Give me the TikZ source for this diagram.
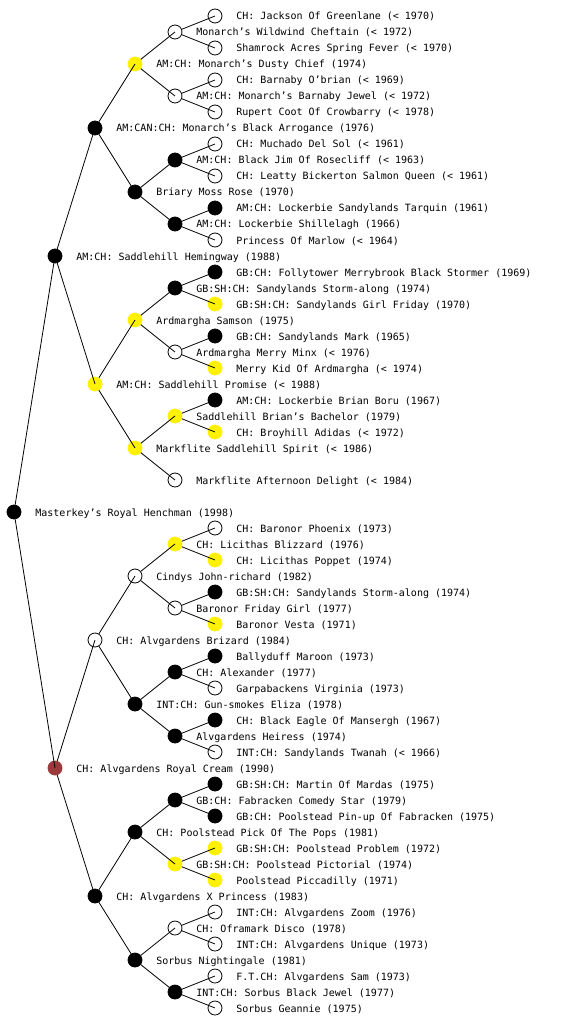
\documentclass[tikz,border=0pt]{standalone}
\usepackage{fontspec}
\newfontfamily\pedfont{DejaVu Sans Mono}
\usepackage{tikz}
\usepackage{xcolor}
\definecolor{cream}{RGB}{155,58,58}

\begin{document}
\begin{tikzpicture}[x=1pt,y=-1pt,line width=0.8pt,
  dog/.style={circle,minimum size=14pt,inner sep=0pt,line width=0.8pt},
  opn/.style={dog,draw=black,fill=white},
  blk/.style={dog,draw=black,fill=black},
  ylw/.style={dog,draw=yellow,fill=yellow},
  red/.style={dog,draw=cream,fill=cream},
  txt/.style={anchor=base west,inner sep=0pt,font={\pedfont\fontsize{10pt}{12pt}\selectfont}}]
\useasboundingbox[fill=white] (0,0) rectangle (560,1024);
% generation 0 and 1
\node[blk] (hench) at (14,512) {};
\node[blk] (hem) at (55,256) {};
\node[red] (cream) at (55,768) {};
% sire side
\node[blk] (arro) at (95,128) {};
\node[ylw] (prom) at (95,384) {};
\node[ylw] (dusty) at (135,64) {};
\node[blk] (briary) at (135,192) {};
\node[ylw] (samson) at (135,320) {};
\node[ylw] (spirit) at (135,448) {};
\node[opn] (wild) at (175,32) {};
\node[opn] (bjewel) at (175,96) {};
\node[blk] (bjim) at (175,160) {};
\node[blk] (shill) at (175,224) {};
\node[blk] (storm) at (175,288) {};
\node[opn] (minx) at (175,352) {};
\node[ylw] (bach) at (175,416) {};
\node[opn] (delight) at (175,480) {};
\node[opn] (jack) at (215,16) {};
\node[opn] (sham) at (215,48) {};
\node[opn] (obrian) at (215,80) {};
\node[opn] (rupert) at (215,112) {};
\node[opn] (much) at (215,144) {};
\node[opn] (leatty) at (215,176) {};
\node[blk] (tarq) at (215,208) {};
\node[opn] (marlow) at (215,240) {};
\node[blk] (folly) at (215,272) {};
\node[ylw] (girl) at (215,304) {};
\node[blk] (mark) at (215,336) {};
\node[ylw] (merry) at (215,368) {};
\node[blk] (boru) at (215,400) {};
\node[ylw] (adidas) at (215,432) {};
% dam side
\node[opn] (brizard) at (95,640) {};
\node[blk] (xprin) at (95,896) {};
\node[opn] (cindy) at (135,576) {};
\node[blk] (eliza) at (135,704) {};
\node[blk] (pops) at (135,832) {};
\node[blk] (sorbus) at (135,960) {};
\node[ylw] (bliz) at (175,544) {};
\node[opn] (friday) at (175,608) {};
\node[blk] (alex) at (175,672) {};
\node[blk] (heiress) at (175,736) {};
\node[blk] (comedy) at (175,800) {};
\node[ylw] (pictorial) at (175,864) {};
\node[opn] (disco) at (175,928) {};
\node[blk] (sjewel) at (175,992) {};
\node[opn] (phoenix) at (215,528) {};
\node[ylw] (poppet) at (215,560) {};
\node[blk] (stormb) at (215,592) {};
\node[ylw] (vesta) at (215,624) {};
\node[blk] (maroon) at (215,656) {};
\node[opn] (virginia) at (215,688) {};
\node[blk] (eagle) at (215,720) {};
\node[opn] (twanah) at (215,752) {};
\node[blk] (martin) at (215,784) {};
\node[blk] (pinup) at (215,816) {};
\node[ylw] (problem) at (215,848) {};
\node[ylw] (picca) at (215,880) {};
\node[opn] (zoom) at (215,912) {};
\node[opn] (unique) at (215,944) {};
\node[opn] (sam) at (215,976) {};
\node[opn] (geannie) at (215,1008) {};
% connectors
\draw (hench) -- (hem.center);
\draw (hench) -- (cream.center);
\draw (hem) -- (arro.center);
\draw (hem) -- (prom.center);
\draw (arro) -- (dusty.center);
\draw (arro) -- (briary.center);
\draw (dusty) -- (wild.center);
\draw (dusty) -- (bjewel.center);
\draw (wild) -- (jack.center);
\draw (wild) -- (sham.center);
\draw (bjewel) -- (obrian.center);
\draw (bjewel) -- (rupert.center);
\draw (briary) -- (bjim.center);
\draw (briary) -- (shill.center);
\draw (bjim) -- (much.center);
\draw (bjim) -- (leatty.center);
\draw (shill) -- (tarq.center);
\draw (shill) -- (marlow.center);
\draw (prom) -- (samson.center);
\draw (prom) -- (spirit.center);
\draw (samson) -- (storm.center);
\draw (samson) -- (minx.center);
\draw (storm) -- (folly.center);
\draw (storm) -- (girl.center);
\draw (minx) -- (mark.center);
\draw (minx) -- (merry.center);
\draw (spirit) -- (bach.center);
\draw (spirit) -- (delight.center);
\draw (bach) -- (boru.center);
\draw (bach) -- (adidas.center);
\draw (cream) -- (brizard.center);
\draw (cream) -- (xprin.center);
\draw (brizard) -- (cindy.center);
\draw (brizard) -- (eliza.center);
\draw (cindy) -- (bliz.center);
\draw (cindy) -- (friday.center);
\draw (bliz) -- (phoenix.center);
\draw (bliz) -- (poppet.center);
\draw (friday) -- (stormb.center);
\draw (friday) -- (vesta.center);
\draw (eliza) -- (alex.center);
\draw (eliza) -- (heiress.center);
\draw (alex) -- (maroon.center);
\draw (alex) -- (virginia.center);
\draw (heiress) -- (eagle.center);
\draw (heiress) -- (twanah.center);
\draw (xprin) -- (pops.center);
\draw (xprin) -- (sorbus.center);
\draw (pops) -- (comedy.center);
\draw (pops) -- (pictorial.center);
\draw (comedy) -- (martin.center);
\draw (comedy) -- (pinup.center);
\draw (pictorial) -- (problem.center);
\draw (pictorial) -- (picca.center);
\draw (sorbus) -- (disco.center);
\draw (sorbus) -- (sjewel.center);
\draw (disco) -- (zoom.center);
\draw (disco) -- (unique.center);
\draw (sjewel) -- (sam.center);
\draw (sjewel) -- (geannie.center);
% names
\node[txt] (hench-t) at (35,516) {Masterkey’s Royal Henchman (1998)};
\node[txt] (hem-t) at (76,260) {AM:CH: Saddlehill Hemingway (1988)};
\node[txt] (cream-t) at (76,772) {CH: Alvgardens Royal Cream (1990)};
\node[txt] (arro-t) at (116,132) {AM:CAN:CH: Monarch’s Black Arrogance (1976)};
\node[txt] (prom-t) at (116,388) {AM:CH: Saddlehill Promise (< 1988)};
\node[txt] (dusty-t) at (156,68) {AM:CH: Monarch’s Dusty Chief (1974)};
\node[txt] (briary-t) at (156,196) {Briary Moss Rose (1970)};
\node[txt] (samson-t) at (156,324) {Ardmargha Samson (1975)};
\node[txt] (spirit-t) at (156,452) {Markflite Saddlehill Spirit (< 1986)};
\node[txt] (wild-t) at (196,36) {Monarch’s Wildwind Cheftain (< 1972)};
\node[txt] (bjewel-t) at (196,100) {AM:CH: Monarch’s Barnaby Jewel (< 1972)};
\node[txt] (bjim-t) at (196,164) {AM:CH: Black Jim Of Rosecliff (< 1963)};
\node[txt] (shill-t) at (196,228) {AM:CH: Lockerbie Shillelagh (1966)};
\node[txt] (storm-t) at (196,292) {GB:SH:CH: Sandylands Storm-along (1974)};
\node[txt] (minx-t) at (196,356) {Ardmargha Merry Minx (< 1976)};
\node[txt] (bach-t) at (196,420) {Saddlehill Brian’s Bachelor (1979)};
\node[txt] (delight-t) at (196,484) {Markflite Afternoon Delight (< 1984)};
\node[txt] (jack-t) at (236,20) {CH: Jackson Of Greenlane (< 1970)};
\node[txt] (sham-t) at (236,52) {Shamrock Acres Spring Fever (< 1970)};
\node[txt] (obrian-t) at (236,84) {CH: Barnaby O’brian (< 1969)};
\node[txt] (rupert-t) at (236,116) {Rupert Coot Of Crowbarry (< 1978)};
\node[txt] (much-t) at (236,148) {CH: Muchado Del Sol (< 1961)};
\node[txt] (leatty-t) at (236,180) {CH: Leatty Bickerton Salmon Queen (< 1961)};
\node[txt] (tarq-t) at (236,212) {AM:CH: Lockerbie Sandylands Tarquin (1961)};
\node[txt] (marlow-t) at (236,244) {Princess Of Marlow (< 1964)};
\node[txt] (folly-t) at (236,276) {GB:CH: Follytower Merrybrook Black Stormer (1969)};
\node[txt] (girl-t) at (236,308) {GB:SH:CH: Sandylands Girl Friday (1970)};
\node[txt] (mark-t) at (236,340) {GB:CH: Sandylands Mark (1965)};
\node[txt] (merry-t) at (236,372) {Merry Kid Of Ardmargha (< 1974)};
\node[txt] (boru-t) at (236,404) {AM:CH: Lockerbie Brian Boru (1967)};
\node[txt] (adidas-t) at (236,436) {CH: Broyhill Adidas (< 1972)};
\node[txt] (brizard-t) at (116,644) {CH: Alvgardens Brizard (1984)};
\node[txt] (xprin-t) at (116,900) {CH: Alvgardens X Princess (1983)};
\node[txt] (cindy-t) at (156,580) {Cindys John-richard (1982)};
\node[txt] (eliza-t) at (156,708) {INT:CH: Gun-smokes Eliza (1978)};
\node[txt] (pops-t) at (156,836) {CH: Poolstead Pick Of The Pops (1981)};
\node[txt] (sorbus-t) at (156,964) {Sorbus Nightingale (1981)};
\node[txt] (bliz-t) at (196,548) {CH: Licithas Blizzard (1976)};
\node[txt] (friday-t) at (196,612) {Baronor Friday Girl (1977)};
\node[txt] (alex-t) at (196,676) {CH: Alexander (1977)};
\node[txt] (heiress-t) at (196,740) {Alvgardens Heiress (1974)};
\node[txt] (comedy-t) at (196,804) {GB:CH: Fabracken Comedy Star (1979)};
\node[txt] (pictorial-t) at (196,868) {GB:SH:CH: Poolstead Pictorial (1974)};
\node[txt] (disco-t) at (196,932) {CH: Oframark Disco (1978)};
\node[txt] (sjewel-t) at (196,996) {INT:CH: Sorbus Black Jewel (1977)};
\node[txt] (phoenix-t) at (236,532) {CH: Baronor Phoenix (1973)};
\node[txt] (poppet-t) at (236,564) {CH: Licithas Poppet (1974)};
\node[txt] (stormb-t) at (236,596) {GB:SH:CH: Sandylands Storm-along (1974)};
\node[txt] (vesta-t) at (236,628) {Baronor Vesta (1971)};
\node[txt] (maroon-t) at (236,660) {Ballyduff Maroon (1973)};
\node[txt] (virginia-t) at (236,692) {Garpabackens Virginia (1973)};
\node[txt] (eagle-t) at (236,724) {CH: Black Eagle Of Mansergh (1967)};
\node[txt] (twanah-t) at (236,756) {INT:CH: Sandylands Twanah (< 1966)};
\node[txt] (martin-t) at (236,788) {GB:SH:CH: Martin Of Mardas (1975)};
\node[txt] (pinup-t) at (236,820) {GB:CH: Poolstead Pin-up Of Fabracken (1975)};
\node[txt] (problem-t) at (236,852) {GB:SH:CH: Poolstead Problem (1972)};
\node[txt] (picca-t) at (236,884) {Poolstead Piccadilly (1971)};
\node[txt] (zoom-t) at (236,916) {INT:CH: Alvgardens Zoom (1976)};
\node[txt] (unique-t) at (236,948) {INT:CH: Alvgardens Unique (1973)};
\node[txt] (sam-t) at (236,980) {F.T.CH: Alvgardens Sam (1973)};
\node[txt] (geannie-t) at (236,1012) {Sorbus Geannie (1975)};
\end{tikzpicture}
\end{document}
